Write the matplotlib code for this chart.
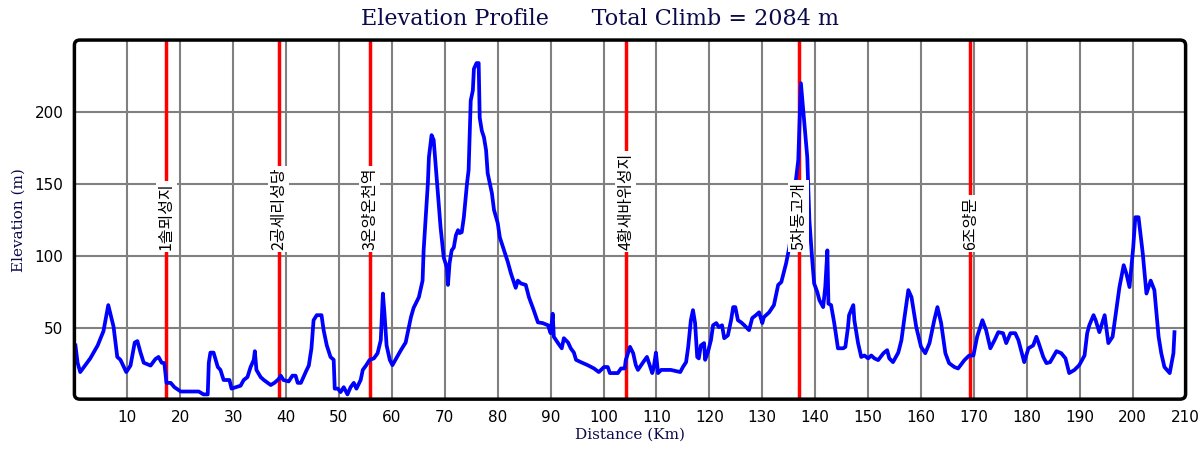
import numpy as np
import matplotlib.pyplot as plt
from matplotlib.patches import FancyBboxPatch

# distance (km) and elevation (m) read from the profile
dist = [0.2, 0.6, 1.1, 3.0, 4.4, 5.5, 6.4, 7.4, 8.1, 8.7, 9.8, 10.6, 11.4, 11.9, 12.5,
        13.1, 14.4, 15.3, 15.9, 16.5, 17.0, 17.4, 18.2, 18.9, 20.1, 21.9, 23.5, 24.4,
        25.2, 25.4, 25.7, 26.3, 27.1, 27.6, 28.2, 29.3, 29.7, 30.5, 31.4, 32.0, 32.7,
        33.3, 33.9, 34.1, 34.4, 35.2, 35.8, 37.1, 37.8, 38.6, 39.0, 39.5, 40.5, 41.2,
        41.8, 42.2, 42.8, 43.9, 44.3, 44.8, 45.2, 45.8, 46.7, 47.1, 47.7, 48.4, 49.0,
        49.2, 49.8, 50.3, 50.9, 51.6, 52.2, 52.8, 53.3, 54.1, 54.5, 55.1, 55.8, 56.6,
        57.3, 57.9, 58.3, 58.6, 59.0, 59.6, 60.1, 61.7, 62.6, 63.6, 64.1, 65.1, 65.8,
        66.0, 66.8, 67.0, 67.5, 67.9, 68.3, 68.7, 69.2, 69.8, 70.4, 70.6, 70.9, 71.3,
        71.7, 72.1, 72.5, 72.8, 73.2, 73.6, 74.2, 74.5, 74.9, 75.3, 75.5, 76.0, 76.4,
        76.6, 77.0, 77.4, 77.8, 78.1, 78.9, 79.3, 80.0, 80.4, 81.2, 81.9, 82.5, 83.4,
        83.8, 84.4, 85.3, 85.9, 86.8, 87.6, 88.5, 89.5, 90.0, 90.4, 90.6, 91.4, 92.1,
        92.5, 93.3, 93.8, 94.4, 94.8, 95.7, 97.0, 98.2, 99.1, 100.1, 100.8, 101.2,
        102.7, 103.3, 104.0, 104.2, 105.0, 105.6, 106.1, 106.5, 107.5, 108.2, 108.6,
        109.2, 109.5, 109.9, 110.3, 110.9, 111.8, 112.7, 114.5, 115.0, 115.6, 116.0,
        116.5, 116.9, 117.3, 117.7, 118.0, 118.4, 119.0, 119.2, 119.7, 120.3, 120.7,
        121.3, 121.8, 122.4, 122.8, 123.5, 124.1, 124.5, 124.9, 125.4, 126.0, 126.6,
        127.5, 128.1, 128.8, 129.4, 130.0, 130.3, 131.3, 132.2, 132.6, 133.0, 133.6,
        134.5, 135.1, 135.8, 136.2, 136.8, 137.3, 137.9, 138.5, 138.9, 139.4, 139.8,
        140.4, 140.8, 141.5, 141.9, 142.3, 142.5, 143.0, 143.6, 144.3, 145.3, 145.7,
        146.2, 146.4, 147.2, 147.4, 148.1, 148.7, 149.3, 150.0, 150.6, 151.2, 151.9,
        152.9, 153.6, 154.0, 154.7, 155.7, 156.3, 156.8, 157.6, 158.2, 159.1, 160.0,
        160.8, 161.6, 162.5, 163.1, 163.8, 164.6, 165.3, 166.3, 167.0, 168.2, 169.1,
        169.9, 170.6, 171.6, 172.3, 173.1, 173.9, 174.6, 175.5, 176.1, 176.9, 177.8,
        178.4, 179.5, 180.3, 181.2, 181.8, 182.2, 183.1, 183.7, 184.4, 185.6, 186.5,
        187.3, 188.0, 189.0, 189.9, 190.9, 191.4, 191.8, 192.6, 193.0, 193.7, 194.1,
        194.7, 195.4, 196.2, 196.9, 197.5, 198.3, 198.8, 199.4, 200.1, 200.5, 201.1,
        201.9, 202.6, 203.4, 204.1, 204.9, 205.4, 206.0, 207.0, 207.7, 207.9]
elev = [38, 26, 19.5, 29, 38, 48, 66, 51, 30, 28, 19.5, 24, 40, 41, 33,
        26, 24, 28.5, 30, 26, 25.7, 12, 12, 9, 6, 6, 6, 4,
        4, 26, 33, 33, 23, 21, 14, 14, 8, 9, 10, 14, 16,
        23, 28, 34, 21, 16, 14, 10.5, 12, 14.6, 17, 14, 13, 17,
        17, 12, 12, 21, 24, 36, 55.5, 59, 59, 48.6, 38, 30, 28,
        8, 8, 5.6, 9, 4, 9, 12, 8, 14, 21, 24, 28, 29,
        32.6, 41.7, 74, 60, 38, 28, 24.3, 34.7, 40, 57.6, 64, 71.5, 83,
        104, 150.6, 168.7, 184, 180.5, 162, 143.7, 120, 99, 92, 80, 95, 104,
        106, 114.5, 118, 116, 116.6, 127, 150.6, 159.7, 208, 215, 230, 234, 234,
        196, 187, 182.5, 173.5, 157.6, 143.7, 132, 123, 113, 104, 96, 88, 78,
        83, 81, 80, 71.5, 62.5, 54, 53.5, 52, 46.5, 60, 44, 39.6, 36,
        43, 40, 36, 33, 28, 26.4, 24.3, 22, 19.5, 23, 23, 18.8,
        18.8, 22, 22, 27.8, 37, 32.6, 24.3, 21, 26.4, 30, 25.7,
        18.8, 23, 33, 18.8, 21, 21, 21, 19.5, 23, 26.4, 37,
        55.5, 62.5, 53.5, 30, 29, 38, 39.6, 28, 33, 41.7, 52,
        53.5, 50.7, 52, 43, 45, 55.5, 64.6, 64.6, 55.5, 54, 52,
        48.6, 57, 59, 61, 53.5, 57.6, 61, 66, 73, 80, 82,
        95, 106, 125, 148, 166.6, 220, 194.4, 168.7, 125, 99, 81,
        75, 69.4, 64.6, 78.5, 104, 67, 66, 53.5, 36, 36, 37,
        50.7, 59, 66, 55.5, 39.6, 30, 31, 29, 31, 29, 27.8,
        32.6, 34.7, 29, 26.4, 33, 41.7, 55.5, 76.4, 71.5, 50.7, 37,
        32.6, 39.6, 55.5, 64.6, 53.5, 32.6, 25.7, 23, 22, 27.8, 31,
        31, 44, 55.5, 48.6, 36, 41.7, 47.2, 46.5, 39.6, 46.5, 46.5,
        41.7, 26.4, 36, 38, 44, 40, 30, 25.7, 26.4, 34, 32.6,
        29, 18.8, 21, 24.3, 31, 46.5, 52, 59, 55.5, 47.2, 52,
        59, 39.6, 44, 62.5, 78.5, 93.7, 88, 78.5, 106, 127, 127,
        102, 74, 83, 76.4, 44, 32.6, 23, 18.8, 32.6, 47.2]

# waypoints
wp_dist = [17.4, 38.6, 55.8, 104.2, 136.9, 169.3]
wp_names = ['1솔뫼성지', '2공세리성당', '3온양온천역', '4황새바위성지', '5차동고개', '6조양문']

navy = '#0a0a4a'

fig = plt.figure(figsize=(12, 4.5), dpi=100)
ax = fig.add_axes([0.062, 0.113, 0.926, 0.798])

ax.plot(dist, elev, color='blue', lw=2.7, zorder=3)

for d, name in zip(wp_dist, wp_names):
    ax.axvline(d, color='red', lw=2.5, zorder=2)
    ax.text(d, 104, name, rotation=90, ha='center', va='bottom', fontsize=11.5,
            family=['Noto Sans CJK KR', 'DejaVu Sans'], zorder=4,
            bbox=dict(facecolor='white', edgecolor='none', pad=1.5))

ax.set_xlim(0, 210)
ax.set_ylim(0.7, 250)
ax.set_xticks(np.arange(10, 211, 10))
ax.set_yticks([50, 100, 150, 200])
ax.grid(True, color='#808080', lw=1.5, zorder=1)
ax.set_axisbelow(True)
ax.tick_params(length=0, labelsize=11, pad=8)
for s in ax.spines.values():
    s.set_visible(False)

frame = FancyBboxPatch((0, 0), 1, 1, boxstyle='round,pad=0,rounding_size=0.005',
                       transform=ax.transAxes, fill=False, edgecolor='black',
                       lw=2.5, clip_on=False, zorder=5, mutation_aspect=2.9)
ax.add_patch(frame)

ax.set_xlabel('Distance (Km)', family='DejaVu Serif', color=navy, fontsize=11, labelpad=2)
ax.set_ylabel('Elevation (m)', family='DejaVu Serif', color=navy, fontsize=11, labelpad=6)
fig.text(0.5, 0.957, 'Elevation Profile      Total Climb = 2084 m', ha='center', va='center',
         family='DejaVu Serif', color=navy, fontsize=16)

fig.savefig('out.png', dpi=100)
